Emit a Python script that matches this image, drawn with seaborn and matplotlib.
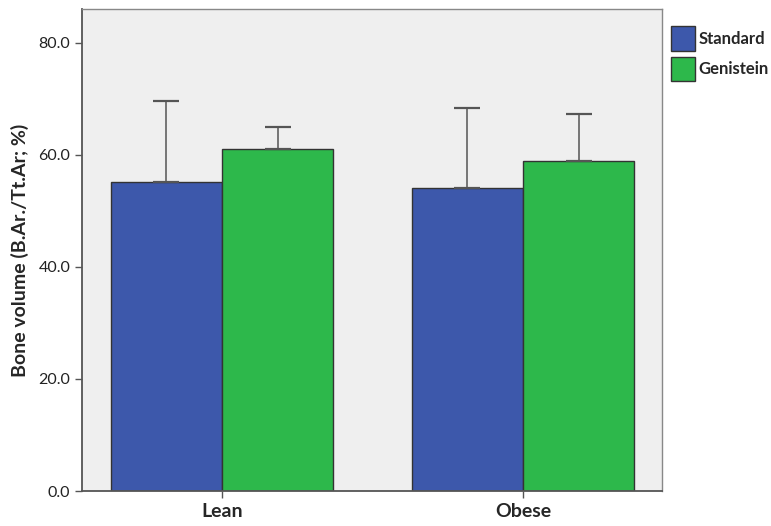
import pandas as pd
import numpy as np
import matplotlib.pyplot as plt
import seaborn as sns

# values
groups = ['Lean', 'Obese']
diets = ['Standard', 'Genistein']
standard_mean = [55.1, 54.1]
genistein_mean = [61.0, 58.9]
standard_upper = [69.5, 68.3]   # top of error bar
genistein_upper = [64.9, 67.3]

colors = {'Standard': '#3D58AB', 'Genistein': '#2DB84B'}

df = pd.DataFrame({
    'group': groups * 2,
    'diet': ['Standard'] * 2 + ['Genistein'] * 2,
    'mean': standard_mean + genistein_mean,
    'upper': standard_upper + genistein_upper,
})

sns.set_style('white')
plt.rcParams['font.family'] = ['Lato', 'DejaVu Sans']

fig = plt.figure(figsize=(7.71, 5.26), dpi=100)
ax = fig.add_axes([0.1064, 0.0665, 0.7523, 0.9155])
ax.set_facecolor('#EFEFEF')

sns.barplot(data=df, x='group', y='mean', hue='diet', order=groups,
            hue_order=diets, palette=colors, width=0.74, gap=0,
            errorbar=None, edgecolor='#333333', linewidth=1, saturation=1,
            ax=ax)

# upper-only error bars at the bar centres
for cont, d in zip(ax.containers, diets):
    sub = df[df['diet'] == d].set_index('group').loc[groups]
    xs = [p.get_x() + p.get_width() / 2 for p in cont.patches]
    ax.errorbar(xs, sub['mean'], yerr=[np.zeros(len(xs)), sub['upper'] - sub['mean']],
                fmt='none', ecolor='#555555', elinewidth=1.1, capsize=9.5,
                capthick=1.6, zorder=1)

ax.set_xlim(-0.465, 1.462)
ax.set_ylim(0, 85.9)
ax.set_yticks([0, 20, 40, 60, 80])
ax.set_yticklabels(['0.0', '20.0', '40.0', '60.0', '80.0'], fontsize=11.5, color='#222222')
ax.set_xticks([0, 1])
ax.set_xticklabels(groups, fontsize=14, fontweight='bold')
ax.set_xlabel('')
ax.set_ylabel('Bone volume (B.Ar./Tt.Ar; %)', fontsize=14, fontweight='bold', labelpad=7)
ax.tick_params(axis='both', direction='out', length=5, width=1, color='#555555', left=True, bottom=True)

for side in ['left', 'bottom']:
    ax.spines[side].set_color('#555555')
    ax.spines[side].set_linewidth(1.3)
for side in ['top', 'right']:
    ax.spines[side].set_color('#888888')
    ax.spines[side].set_linewidth(1)

ax.legend(loc='upper left', bbox_to_anchor=(1.0155, 0.965), frameon=False,
          prop={'weight': 'bold', 'size': 12}, handlelength=1.45, handleheight=1.9,
          handletextpad=0.2, labelspacing=0.35, borderaxespad=0, borderpad=0)

fig.savefig('out.png', dpi=100)
